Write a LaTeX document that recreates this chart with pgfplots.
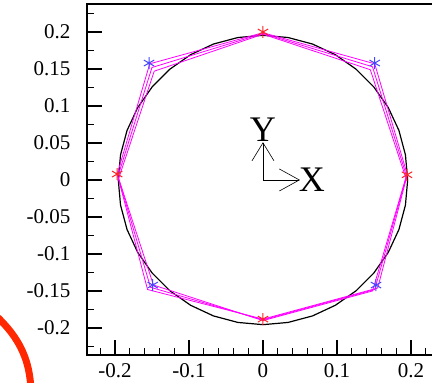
\documentclass[border=0pt]{standalone}
\usepackage{pgfplots}
\pgfplotsset{compat=1.18}
\usepackage{fontspec}
\setmainfont{Liberation Serif}
\usetikzlibrary{arrows.meta}
\definecolor{myred}{RGB}{255,35,35}
\definecolor{myblue}{RGB}{70,70,255}
\definecolor{mymag}{RGB}{255,0,255}
\definecolor{annred}{RGB}{255,40,0}
\begin{document}
\begin{tikzpicture}
\path[use as bounding box] (0,0) rectangle (432pt,-383pt);
\clip (0,0) rectangle (432pt,-383pt);
\begin{axis}[
  at={(87pt,-4pt)}, anchor=north west,
  scale only axis, width=368.4pt, height=351pt,
  xmin=-0.2378, xmax=0.26, ymin=-0.2365, ymax=0.2378,
  tick pos=left, tick align=inside,
  major tick length=15pt, minor tick length=7.5pt,
  xtick={-0.2,-0.1,0,0.1,0.2}, xticklabels={-0.2,-0.1,0,0.1,0.2},
  minor xtick={-0.22,-0.18,-0.16,-0.14,-0.12,-0.08,-0.06,-0.04,-0.02,0.02,0.04,0.06,0.08,0.12,0.14,0.16,0.18,0.22,0.24},
  ytick={-0.2,-0.15,-0.1,-0.05,0,0.05,0.1,0.15,0.2},
  yticklabels={-0.2,-0.15,-0.1,-0.05,0,0.05,0.1,0.15,0.2},
  minor ytick={-0.225,-0.175,-0.125,-0.075,-0.025,0.025,0.075,0.125,0.175,0.225},
  tick label style={font=\rmfamily\fontsize{21}{25}\selectfont},
  yticklabel style={xshift=-13pt},
  xticklabel style={yshift=-5pt},
  axis line style={line width=1.3pt},
  every tick/.style={line width=1.1pt, black},
]
\addplot[black, line width=1.2pt] coordinates {
(0.1955,0) (0.1925,0.0339) (0.1837,0.0669) (0.1693,0.0978) (0.1498,0.1257) (0.1257,0.1498) (0.0978,0.1693) (0.0669,0.1837) (0.0339,0.1925)
(0,0.1955) (-0.0339,0.1925) (-0.0669,0.1837) (-0.0978,0.1693) (-0.1257,0.1498) (-0.1498,0.1257) (-0.1693,0.0978) (-0.1837,0.0669) (-0.1925,0.0339)
(-0.1955,0) (-0.1925,-0.0339) (-0.1837,-0.0669) (-0.1693,-0.0978) (-0.1498,-0.1257) (-0.1257,-0.1498) (-0.0978,-0.1693) (-0.0669,-0.1837) (-0.0339,-0.1925)
(0,-0.1955) (0.0339,-0.1925) (0.0669,-0.1837) (0.0978,-0.1693) (0.1257,-0.1498) (0.1498,-0.1257) (0.1693,-0.0978) (0.1837,-0.0669) (0.1925,-0.0339)
(0.1955,0)};
\addplot[mymag, line width=0.8pt] coordinates {
(0,0.199) (0.151,0.157) (0.195,0.007) (0.155,-0.146) (0,-0.188) (-0.156,-0.148) (-0.197,0.008) (-0.153,0.157) (0,0.199)};
\addplot[mymag, line width=0.8pt] coordinates {
(0,0.198) (0.148,0.153) (0.194,0.005) (0.151,-0.148) (0,-0.189) (-0.152,-0.145) (-0.196,0.005) (-0.150,0.152) (0,0.198)};
\addplot[mymag, line width=0.8pt] coordinates {
(0,0.197) (0.145,0.149) (0.193,0.003) (0.148,-0.150) (0,-0.190) (-0.148,-0.142) (-0.195,0.002) (-0.147,0.147) (0,0.197)};
\addplot[only marks, mark=asterisk, mark size=6pt, myred, mark options={line width=1pt}] coordinates {
(0,0.2) (-0.197,0.008) (0.1946,0.007) (0,-0.188)};
\addplot[only marks, mark=asterisk, mark size=6pt, myblue, mark options={line width=1pt}] coordinates {
(-0.154,0.158) (0.151,0.158) (-0.149,-0.142) (0.1527,-0.142)};
\draw[line width=0.9pt, -{Straight Barb[length=18pt,width=22pt,line width=0.6pt]}] (axis cs:0,0) -- (axis cs:0,0.051);
\draw[line width=0.9pt, -{Straight Barb[length=20pt,width=22pt,line width=0.6pt]}] (axis cs:0,0) -- (axis cs:0.050,0);
\node[font=\fontsize{36}{40}\selectfont, inner sep=0pt] at (axis cs:0,0.068) {Y};
\node[font=\fontsize{36}{40}\selectfont, inner sep=0pt] at (axis cs:0.066,0) {X};
\end{axis}
\draw[annred, line width=7pt] (-8pt,-312pt) .. controls (15pt,-333pt) and (31pt,-355pt) .. (31pt,-395pt);
\end{tikzpicture}
\end{document}
